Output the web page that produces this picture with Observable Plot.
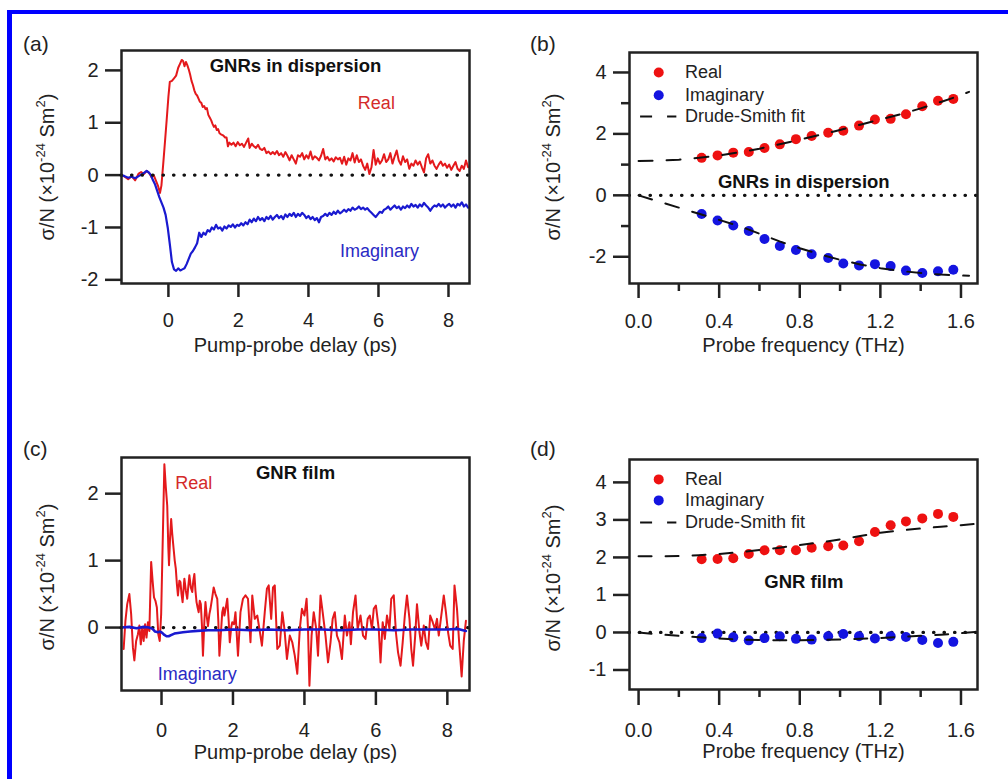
<!DOCTYPE html>
<html><head><meta charset="utf-8">
<script src="https://cdn.jsdelivr.net/npm/d3@7"></script>
<script src="https://cdn.jsdelivr.net/npm/@observablehq/plot@0.6"></script>
<style>
body{margin:0;background:#fff;}
#fig{position:relative;width:1008px;height:779px;overflow:hidden;background:#fff;font-family:"Liberation Sans",Arial,sans-serif;color:#222;}
.bar{position:absolute;background:#0000ff;}
.plab{position:absolute;font-size:21px;line-height:24px;}
.ylab{position:absolute;font-size:20px;line-height:1;white-space:nowrap;transform:translate(-50%,-50%) rotate(-90deg);}
.ylab sup{font-size:13px;vertical-align:0.72em;line-height:0;}
</style></head><body><div id="fig"></div>
<script>
// ---------- data ----------
const aReal = [[-1.34,0.00],[-1.25,-0.03],[-1.15,-0.08],[-1.05,-0.02],[-0.95,-0.10],[-0.85,0.03],[-0.78,0.06],[-0.70,0.02],[-0.62,0.08],[-0.55,0.04],[-0.48,-0.04],[-0.42,0.00],[-0.36,-0.10],[-0.30,-0.20],[-0.24,-0.34],[-0.20,-0.20],[-0.15,0.20],[-0.10,0.62],[-0.05,1.05],[0.00,1.50],[0.04,1.78],[0.10,1.80],[0.16,1.85],[0.22,1.90],[0.28,2.05],[0.34,2.14],[0.38,2.20],[0.42,2.18],[0.46,2.08],[0.50,2.16],[0.54,2.10],[0.58,2.02],[0.62,1.92],[0.66,1.80],[0.70,1.72],[0.74,1.62],[0.78,1.55],[0.82,1.52],[0.86,1.46],[0.90,1.40],[0.94,1.38],[0.98,1.30],[1.02,1.32],[1.06,1.26],[1.10,1.28],[1.14,1.15],[1.18,1.10],[1.22,1.05],[1.26,0.98],[1.30,0.92],[1.34,0.95],[1.38,0.86],[1.42,0.88],[1.46,0.80],[1.50,0.78],[1.56,0.76],[1.62,0.72],[1.66,0.72],[1.70,0.55],[1.74,0.62],[1.80,0.58],[1.86,0.62],[1.92,0.55],[1.98,0.63],[2.04,0.57],[2.10,0.60],[2.16,0.54],[2.22,0.62],[2.28,0.70],[2.32,0.52],[2.38,0.60],[2.44,0.55],[2.50,0.52],[2.56,0.58],[2.62,0.50],[2.68,0.48],[2.74,0.52],[2.80,0.42],[2.86,0.45],[2.92,0.40],[2.98,0.44],[3.04,0.40],[3.10,0.46],[3.16,0.38],[3.22,0.42],[3.28,0.35],[3.34,0.44],[3.40,0.37],[3.46,0.28],[3.52,0.38],[3.58,0.30],[3.64,0.22],[3.70,0.38],[3.76,0.35],[3.82,0.42],[3.88,0.30],[3.94,0.38],[4.00,0.32],[4.06,0.45],[4.12,0.30],[4.18,0.36],[4.24,0.33],[4.30,0.28],[4.36,0.37],[4.42,0.50],[4.48,0.30],[4.54,0.35],[4.60,0.28],[4.66,0.32],[4.72,0.26],[4.78,0.34],[4.84,0.30],[4.90,0.33],[4.96,0.22],[5.02,0.35],[5.08,0.20],[5.14,0.32],[5.20,0.28],[5.26,0.42],[5.32,0.24],[5.38,0.38],[5.44,0.25],[5.50,0.30],[5.56,0.18],[5.62,0.10],[5.68,0.22],[5.74,0.02],[5.80,0.15],[5.86,0.48],[5.92,0.20],[5.98,0.32],[6.04,0.22],[6.10,0.28],[6.16,0.40],[6.22,0.25],[6.28,0.30],[6.34,0.42],[6.40,0.22],[6.46,0.35],[6.52,0.47],[6.58,0.28],[6.64,0.20],[6.70,0.36],[6.76,0.25],[6.82,0.30],[6.88,0.12],[6.94,0.22],[7.00,0.18],[7.06,0.28],[7.12,0.20],[7.18,0.26],[7.24,0.15],[7.30,0.05],[7.36,0.32],[7.42,0.40],[7.48,0.22],[7.54,0.28],[7.60,0.18],[7.66,0.12],[7.72,0.20],[7.78,0.26],[7.84,0.18],[7.90,0.22],[7.96,0.14],[8.02,0.20],[8.08,0.10],[8.14,0.18],[8.20,0.25],[8.26,0.12],[8.32,0.08],[8.38,0.18],[8.44,0.12],[8.50,0.28],[8.56,0.15]];
const aImag = [[-1.34,0.00],[-1.25,-0.02],[-1.15,-0.05],[-1.05,-0.03],[-0.95,-0.06],[-0.85,-0.02],[-0.75,0.02],[-0.68,0.05],[-0.62,0.08],[-0.56,0.05],[-0.50,0.00],[-0.44,-0.10],[-0.38,-0.18],[-0.32,-0.30],[-0.26,-0.42],[-0.20,-0.52],[-0.14,-0.62],[-0.08,-0.76],[-0.02,-1.00],[0.04,-1.32],[0.10,-1.66],[0.16,-1.80],[0.22,-1.83],[0.28,-1.78],[0.34,-1.82],[0.40,-1.80],[0.46,-1.78],[0.52,-1.70],[0.58,-1.60],[0.64,-1.50],[0.70,-1.45],[0.76,-1.38],[0.82,-1.30],[0.88,-1.10],[0.94,-1.18],[1.00,-1.10],[1.06,-1.14],[1.12,-1.05],[1.18,-1.08],[1.24,-1.00],[1.30,-1.04],[1.36,-0.95],[1.42,-1.02],[1.48,-1.00],[1.54,-1.06],[1.60,-0.98],[1.66,-1.02],[1.72,-0.96],[1.78,-0.99],[1.84,-0.94],[1.90,-1.00],[1.96,-0.95],[2.02,-0.97],[2.08,-0.92],[2.14,-0.96],[2.20,-0.90],[2.26,-0.94],[2.32,-0.85],[2.38,-0.90],[2.44,-0.83],[2.50,-0.88],[2.56,-0.80],[2.62,-0.86],[2.68,-0.82],[2.74,-0.88],[2.80,-0.80],[2.86,-0.84],[2.92,-0.78],[2.98,-0.85],[3.04,-0.80],[3.10,-0.76],[3.16,-0.82],[3.22,-0.78],[3.28,-0.84],[3.34,-0.75],[3.40,-0.80],[3.46,-0.74],[3.52,-0.78],[3.58,-0.72],[3.64,-0.80],[3.70,-0.74],[3.76,-0.78],[3.82,-0.72],[3.88,-0.76],[3.94,-0.82],[4.00,-0.78],[4.06,-0.84],[4.12,-0.80],[4.18,-0.86],[4.24,-0.82],[4.30,-0.90],[4.36,-0.80],[4.42,-0.78],[4.48,-0.74],[4.54,-0.78],[4.60,-0.72],[4.66,-0.76],[4.72,-0.70],[4.78,-0.74],[4.84,-0.68],[4.90,-0.73],[4.96,-0.70],[5.02,-0.66],[5.08,-0.70],[5.14,-0.65],[5.20,-0.68],[5.26,-0.62],[5.32,-0.66],[5.38,-0.64],[5.44,-0.60],[5.50,-0.65],[5.56,-0.62],[5.62,-0.66],[5.68,-0.63],[5.74,-0.68],[5.80,-0.72],[5.86,-0.76],[5.92,-0.80],[5.98,-0.75],[6.04,-0.70],[6.10,-0.72],[6.16,-0.66],[6.22,-0.64],[6.28,-0.60],[6.34,-0.66],[6.40,-0.62],[6.46,-0.58],[6.52,-0.63],[6.58,-0.60],[6.64,-0.66],[6.70,-0.60],[6.76,-0.63],[6.82,-0.58],[6.88,-0.62],[6.94,-0.55],[7.00,-0.60],[7.06,-0.57],[7.12,-0.62],[7.18,-0.56],[7.24,-0.60],[7.30,-0.53],[7.36,-0.58],[7.42,-0.62],[7.48,-0.68],[7.54,-0.62],[7.60,-0.58],[7.66,-0.60],[7.72,-0.55],[7.78,-0.60],[7.84,-0.56],[7.90,-0.62],[7.96,-0.58],[8.02,-0.55],[8.08,-0.60],[8.14,-0.56],[8.20,-0.62],[8.26,-0.55],[8.32,-0.58],[8.38,-0.52],[8.44,-0.60],[8.50,-0.56],[8.56,-0.62]];

const cReal = [[-1.06,-0.32],[-1.01,0.10],[-0.96,0.35],[-0.90,0.50],[-0.85,0.20],[-0.80,-0.30],[-0.76,-0.49],[-0.71,-0.20],[-0.66,-0.10],[-0.62,0.03],[-0.58,-0.25],[-0.54,0.00],[-0.50,-0.20],[-0.46,0.05],[-0.42,-0.15],[-0.38,0.08],[-0.34,-0.05],[-0.29,0.98],[-0.25,0.70],[-0.21,0.45],[-0.17,0.40],[-0.13,0.30],[-0.09,-0.10],[-0.05,-0.20],[-0.01,0.20],[0.03,1.20],[0.08,2.44],[0.12,2.10],[0.16,1.82],[0.19,1.20],[0.21,0.93],[0.24,1.35],[0.27,1.62],[0.30,1.40],[0.34,1.17],[0.37,1.00],[0.40,0.88],[0.43,0.65],[0.46,0.48],[0.50,0.70],[0.53,0.68],[0.56,0.50],[0.59,0.38],[0.62,0.60],[0.64,0.73],[0.68,0.55],[0.72,0.43],[0.75,0.62],[0.78,0.78],[0.82,0.60],[0.86,0.53],[0.89,0.70],[0.92,0.80],[0.95,0.55],[0.98,0.38],[1.01,0.30],[1.04,0.23],[1.07,0.40],[1.10,0.35],[1.13,0.05],[1.16,-0.42],[1.20,0.10],[1.23,0.38],[1.27,0.15],[1.30,0.02],[1.34,0.20],[1.37,0.28],[1.42,0.45],[1.46,0.60],[1.51,0.50],[1.56,0.43],[1.59,0.10],[1.62,-0.42],[1.66,-0.10],[1.70,0.23],[1.73,0.30],[1.76,0.18],[1.80,0.30],[1.84,0.43],[1.88,0.10],[1.91,-0.22],[1.95,0.00],[1.98,0.08],[2.03,0.05],[2.07,0.23],[2.14,-0.42],[2.21,0.23],[2.28,0.43],[2.35,0.48],[2.42,0.43],[2.49,-0.22],[2.54,0.48],[2.61,0.13],[2.68,0.18],[2.74,-0.02],[2.81,-0.27],[2.89,0.23],[2.95,0.58],[3.00,0.63],[3.07,0.13],[3.12,0.60],[3.17,0.63],[3.24,-0.32],[3.31,-0.27],[3.38,0.23],[3.44,-0.02],[3.51,-0.47],[3.59,-0.12],[3.66,-0.22],[3.73,-0.42],[3.80,-0.69],[3.87,-0.02],[3.93,0.28],[4.00,0.18],[4.06,0.43],[4.10,-0.02],[4.14,-0.87],[4.20,-0.12],[4.26,0.23],[4.33,-0.02],[4.38,-0.42],[4.45,0.48],[4.51,0.23],[4.59,-0.12],[4.66,-0.52],[4.73,-0.22],[4.79,0.13],[4.85,0.23],[4.91,-0.12],[4.98,-0.22],[5.05,-0.47],[5.13,0.18],[5.19,-0.12],[5.26,0.08],[5.30,-0.25],[5.36,0.23],[5.43,0.48],[5.49,-0.02],[5.57,0.18],[5.64,-0.12],[5.71,-0.17],[5.77,0.13],[5.83,0.18],[5.89,-0.02],[5.94,0.28],[6.00,0.33],[6.08,-0.02],[6.13,-0.52],[6.19,0.08],[6.25,-0.17],[6.31,0.18],[6.38,-0.02],[6.43,0.43],[6.50,0.48],[6.56,-0.07],[6.62,-0.37],[6.69,-0.57],[6.75,-0.22],[6.81,0.18],[6.87,0.48],[6.94,0.13],[6.99,-0.32],[7.04,-0.57],[7.10,-0.12],[7.15,0.35],[7.22,-0.07],[7.27,-0.27],[7.34,0.03],[7.40,-0.22],[7.46,-0.32],[7.52,0.18],[7.59,0.08],[7.65,-0.02],[7.71,0.13],[7.76,-0.12],[7.83,0.18],[7.90,0.48],[7.96,0.23],[8.02,-0.07],[8.08,-0.27],[8.15,-0.32],[8.20,0.63],[8.27,0.28],[8.33,-0.22],[8.40,-0.73],[8.46,-0.20],[8.52,0.10]];
const cImag = [[-1.12,0.00],[-0.90,0.01],[-0.70,-0.01],[-0.50,0.01],[-0.35,0.00],[-0.25,-0.02],[-0.18,-0.06],[-0.10,-0.07],[-0.04,-0.06],[0.02,-0.08],[0.08,-0.11],[0.14,-0.13],[0.20,-0.13],[0.28,-0.11],[0.36,-0.09],[0.46,-0.08],[0.60,-0.07],[0.80,-0.06],[1.00,-0.05],[1.30,-0.04],[1.60,-0.04],[2.00,-0.03],[2.50,-0.04],[3.00,-0.03],[3.50,-0.04],[4.00,-0.03],[4.50,-0.03],[5.00,-0.04],[5.50,-0.03],[6.00,-0.03],[6.50,-0.04],[7.00,-0.03],[7.50,-0.03],[8.00,-0.03],[8.30,-0.02],[8.52,-0.05]];

const freq = [0.313,0.392,0.470,0.547,0.625,0.701,0.781,0.859,0.941,1.016,1.094,1.173,1.251,1.327,1.408,1.486,1.562];
const bRealPts = [1.22,1.30,1.39,1.41,1.54,1.66,1.83,1.93,2.04,2.10,2.27,2.47,2.49,2.64,2.90,3.08,3.14];
const bImagPts = [-0.61,-0.82,-0.98,-1.16,-1.42,-1.65,-1.78,-1.92,-2.04,-2.22,-2.28,-2.24,-2.30,-2.45,-2.53,-2.47,-2.42];
const dRealPts = [1.95,1.96,1.98,2.09,2.19,2.19,2.19,2.26,2.30,2.32,2.43,2.68,2.86,2.96,3.04,3.16,3.08];
const dImagPts = [-0.15,-0.03,-0.13,-0.21,-0.15,-0.10,-0.17,-0.19,-0.10,-0.04,-0.10,-0.16,-0.10,-0.12,-0.20,-0.28,-0.25];

const fitFreq = [0,0.1,0.2,0.3,0.4,0.5,0.6,0.7,0.8,0.9,1.0,1.1,1.2,1.3,1.4,1.5,1.6,1.64];
const bRealFit = [1.12,1.13,1.16,1.22,1.30,1.40,1.52,1.66,1.81,1.97,2.13,2.30,2.47,2.64,2.83,3.04,3.26,3.37];
const bImagFit = [0,-0.20,-0.40,-0.60,-0.80,-1.00,-1.25,-1.50,-1.72,-1.92,-2.10,-2.25,-2.37,-2.46,-2.53,-2.58,-2.61,-2.62];
const dFitFreq = [0,0.1,0.2,0.3,0.4,0.5,0.6,0.7,0.8,0.9,1.0,1.1,1.2,1.3,1.4,1.5,1.6,1.68];
const dRealFit = [2.03,2.03,2.04,2.06,2.09,2.14,2.20,2.26,2.33,2.40,2.48,2.57,2.66,2.72,2.77,2.82,2.86,2.90];
const dImagFit = [0,-0.05,-0.09,-0.13,-0.16,-0.19,-0.20,-0.21,-0.21,-0.20,-0.19,-0.17,-0.15,-0.12,-0.09,-0.06,-0.02,0.02];

const delayTicks = [0,2,4,6,8];
const aYTicks = [-2,-1,0,1,2];
const cYTicks = [0,1,2];
const freqTicks = [0,0.4,0.8,1.2,1.6];
const freqMinor = [0.2,0.6,1.0,1.4];
const bYTicks = [-2,0,2,4];
const bYMinor = [-1,1,3];
const dYTicks = [-1,0,1,2,3,4];
const legendLabels = ["Real","Imaginary","Drude-Smith fit"];

// ---------- styling ----------
const RED = "#e4191c", BLUE = "#1a1ad0", RED_PT = "#ee1111", BLUE_PT = "#1414e0";
const RED_TXT = "#d42a2a", BLUE_TXT = "#2a2ac4", INK = "#222";
const FONT = '"Liberation Sans", Arial, sans-serif';
const hy = d => d < 0 ? "-" + Math.abs(d) : String(d);
const f1 = d3.format(".1f");
const fig = document.getElementById("fig");

function addDiv(cls, html, css) {
  const d = document.createElement("div");
  d.className = cls; d.innerHTML = html;
  Object.assign(d.style, css);
  fig.appendChild(d);
}
addDiv("bar", "", {left:"7px", top:"9.5px", width:"1001px", height:"4.5px"});
addDiv("bar", "", {left:"7px", top:"9.5px", width:"5px", height:"770px"});

const yTitle = 'σ/N (×10<sup>-24</sup> Sm<sup>2</sup>)';

function panel(o) {
  const svg = Plot.plot({
    width: o.width, height: o.height,
    marginLeft: o.ml, marginRight: o.mr, marginTop: o.mt, marginBottom: o.mb,
    x: {domain: o.xd}, y: {domain: o.yd},
    style: {fontFamily: FONT, fontSize: "20px", color: INK, background: "transparent", overflow: "visible"},
    marks: o.marks
  });
  svg.style.position = "absolute";
  svg.style.left = o.left + "px";
  svg.style.top = o.top + "px";
  fig.appendChild(svg);
}

const zeroLine = Plot.ruleY([0], {stroke: "#111", strokeWidth: 3.2, strokeDasharray: "0.5,10", strokeLinecap: "round"});
const frame = Plot.frame({stroke: INK, strokeWidth: 2.5});

function xAxisTitle(t) {
  return Plot.text([t], {text: d => d, frameAnchor: "bottom", dy: 68, fontSize: 20, fill: INK});
}

// ---------- (a) ----------
panel({left: 0, top: 0, width: 500, height: 380, ml: 121, mr: 31, mt: 50, mb: 97,
  xd: [-1.34, 8.6], yd: [-2.07, 2.38],
  marks: [
    Plot.axisX({ticks: delayTicks, tickSize: 14, tickPadding: 15, strokeWidth: 2.5, tickFormat: hy, label: null}),
    Plot.axisY({ticks: aYTicks, tickSize: 16, tickPadding: 7, strokeWidth: 2.5, tickFormat: hy, label: null}),
    Plot.line(aReal, {x: d => d[0], y: d => d[1], stroke: RED, strokeWidth: 2, clip: true}),
    Plot.line(aImag, {x: d => d[0], y: d => d[1], stroke: BLUE, strokeWidth: 2.2, clip: true}),
    zeroLine,
    Plot.text(["GNRs in dispersion"], {text: d => d, x: 3.63, y: 2.08, fontWeight: "bold", fontSize: 18.5, fill: "#111"}),
    Plot.text([legendLabels[0]], {text: d => d, x: 5.94, y: 1.37, fontSize: 18, fill: RED_TXT}),
    Plot.text([legendLabels[1]], {text: d => d, x: 6.03, y: -1.45, fontSize: 18, fill: BLUE_TXT}),
    xAxisTitle("Pump-probe delay (ps)"),
    frame
  ]});

// ---------- (b) ----------
const bPts = freq.map((f, i) => ({f, re: bRealPts[i], im: bImagPts[i]}));
const bFit = fitFreq.map((f, i) => ({f, re: bRealFit[i], im: bImagFit[i]}));
panel({left: 500, top: 0, width: 508, height: 380, ml: 129, mr: 31, mt: 52, mb: 97,
  xd: [-0.045, 1.682], yd: [-2.87, 4.65],
  marks: [
    Plot.axisX({ticks: freqTicks, tickSize: 15, tickPadding: 15, strokeWidth: 2.5, tickFormat: f1, label: null}),
    Plot.axisX({ticks: freqMinor, tickSize: 8, strokeWidth: 2.5, tickFormat: () => "", label: null}),
    Plot.axisY({ticks: bYTicks, tickSize: 16, tickPadding: 7, strokeWidth: 2.5, tickFormat: hy, label: null}),
    Plot.axisY({ticks: bYMinor, tickSize: 8, strokeWidth: 2.5, tickFormat: () => "", label: null}),
    Plot.dot(bPts, {x: "f", y: "re", r: 5, fill: RED_PT}),
    Plot.dot(bPts, {x: "f", y: "im", r: 5, fill: BLUE_PT}),
    Plot.line(bFit, {x: "f", y: "re", stroke: "#111", strokeWidth: 2, strokeDasharray: "14,14", clip: true}),
    Plot.line(bFit, {x: "f", y: "im", stroke: "#111", strokeWidth: 2, strokeDasharray: "14,14", clip: true}),
    zeroLine,
    Plot.text(["GNRs in dispersion"], {text: d => d, x: 0.82, y: 0.42, fontWeight: "bold", fontSize: 18.5, fill: "#111"}),
    Plot.dot([4.0], {x: 0.10, y: d => d, r: 5, fill: RED_PT}),
    Plot.dot([3.26], {x: 0.10, y: d => d, r: 5, fill: BLUE_PT}),
    Plot.ruleY([2.57], {x1: 0.01, x2: 0.19, stroke: "#111", strokeWidth: 2, strokeDasharray: "12,15"}),
    Plot.text(legendLabels, {text: d => d, x: 0.23, y: [4.0, 3.26, 2.57], textAnchor: "start", fontSize: 18, fill: INK}),
    xAxisTitle("Probe frequency (THz)"),
    frame
  ]});

// ---------- (c) ----------
panel({left: 0, top: 380, width: 500, height: 399, ml: 121, mr: 31, mt: 77, mb: 89,
  xd: [-1.12, 8.62], yd: [-0.94, 2.54],
  marks: [
    Plot.axisX({ticks: delayTicks, tickSize: 15, tickPadding: 17, strokeWidth: 2.5, tickFormat: hy, label: null}),
    Plot.axisY({ticks: cYTicks, tickSize: 16, tickPadding: 7, strokeWidth: 2.5, tickFormat: hy, label: null}),
    zeroLine,
    Plot.line(cReal, {x: d => d[0], y: d => d[1], stroke: RED, strokeWidth: 2, clip: true}),
    Plot.line(cImag, {x: d => d[0], y: d => d[1], stroke: BLUE, strokeWidth: 2.6, clip: true}),
    Plot.text(["GNR film"], {text: d => d, x: 3.75, y: 2.31, fontWeight: "bold", fontSize: 18.5, fill: "#111"}),
    Plot.text([legendLabels[0]], {text: d => d, x: 0.9, y: 2.15, fontSize: 18, fill: RED_TXT}),
    Plot.text([legendLabels[1]], {text: d => d, x: 1.0, y: -0.70, fontSize: 18, fill: BLUE_TXT}),
    xAxisTitle("Pump-probe delay (ps)"),
    frame
  ]});

// ---------- (d) ----------
const dPts = freq.map((f, i) => ({f, re: dRealPts[i], im: dImagPts[i]}));
const dFit = dFitFreq.map((f, i) => ({f, re: dRealFit[i], im: dImagFit[i]}));
panel({left: 500, top: 380, width: 508, height: 399, ml: 129, mr: 31, mt: 79, mb: 90,
  xd: [-0.045, 1.682], yd: [-1.52, 4.61],
  marks: [
    Plot.axisX({ticks: freqTicks, tickSize: 16, tickPadding: 17, strokeWidth: 2.5, tickFormat: f1, label: null}),
    Plot.axisX({ticks: freqMinor, tickSize: 8, strokeWidth: 2.5, tickFormat: () => "", label: null}),
    Plot.axisY({ticks: dYTicks, tickSize: 16, tickPadding: 7, strokeWidth: 2.5, tickFormat: hy, label: null}),
    zeroLine,
    Plot.dot(dPts, {x: "f", y: "re", r: 5, fill: RED_PT}),
    Plot.dot(dPts, {x: "f", y: "im", r: 5, fill: BLUE_PT}),
    Plot.line(dFit, {x: "f", y: "re", stroke: "#111", strokeWidth: 2, strokeDasharray: "13,14", clip: true}),
    Plot.line(dFit, {x: "f", y: "im", stroke: "#111", strokeWidth: 2, strokeDasharray: "13,14", clip: true}),
    Plot.text(["GNR film"], {text: d => d, x: 0.82, y: 1.33, fontWeight: "bold", fontSize: 18.5, fill: "#111"}),
    Plot.dot([4.08], {x: 0.10, y: d => d, r: 5, fill: RED_PT}),
    Plot.dot([3.52], {x: 0.10, y: d => d, r: 5, fill: BLUE_PT}),
    Plot.ruleY([2.93], {x1: 0.01, x2: 0.19, stroke: "#111", strokeWidth: 2, strokeDasharray: "12,15"}),
    Plot.text(legendLabels, {text: d => d, x: 0.23, y: [4.08, 3.52, 2.93], textAnchor: "start", fontSize: 18, fill: INK}),
    xAxisTitle("Probe frequency (THz)"),
    frame
  ]});

// ---------- panel letters and y titles ----------
addDiv("plab", "(a)", {left: "23px", top: "32px"});
addDiv("plab", "(b)", {left: "530px", top: "32px"});
addDiv("plab", "(c)", {left: "23px", top: "437px"});
addDiv("plab", "(d)", {left: "530px", top: "437px"});
addDiv("ylab", yTitle, {left: "47px", top: "167px"});
addDiv("ylab", yTitle, {left: "553px", top: "167px"});
addDiv("ylab", yTitle, {left: "47px", top: "577px"});
addDiv("ylab", yTitle, {left: "553px", top: "578px"});
</script></body></html>
